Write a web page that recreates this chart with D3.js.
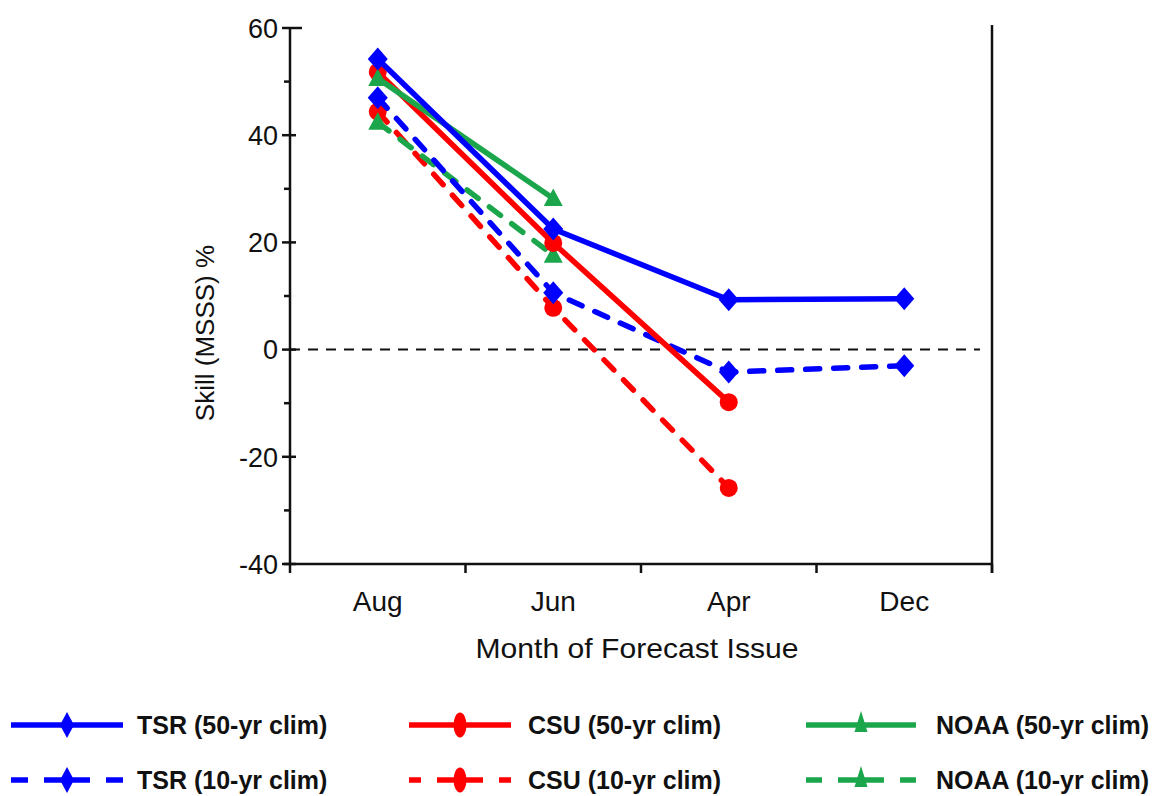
<!DOCTYPE html>
<html>
<head>
<meta charset="utf-8">
<script src="https://cdn.jsdelivr.net/npm/d3@7"></script>
<style>
  body { margin: 0; background: #fff; }
  svg { font-family: "Liberation Sans", Arial, sans-serif; }
</style>
</head>
<body>
<div id="chart"></div>
<script>
// ========= DATA =========
const months = ["Aug", "Jun", "Apr", "Dec"];
const tsr50  = [54.2, 22.5, 9.3, 9.5];
const tsr10  = [47.0, 10.6, -4.2, -3.0];
const csu50  = [51.8, 19.9, -9.8];
const csu10  = [44.4, 7.8, -25.8];
const noaa50 = [50.6, 28.2];
const noaa10 = [42.4, 17.6];
const yTicks = [-40, -20, 0, 20, 40, 60];

const BLUE = "#0000ff", RED = "#ff0000", GREEN = "#1ca64c";

// orden de dibujo: rojo, verde, azul (azul encima)
const series = [
  { name: "CSU (10-yr clim)",  values: csu10,  color: RED,   marker: "circle",   dashed: true },
  { name: "NOAA (10-yr clim)", values: noaa10, color: GREEN, marker: "triangle", dashed: true },
  { name: "TSR (10-yr clim)",  values: tsr10,  color: BLUE,  marker: "diamond",  dashed: true },
  { name: "CSU (50-yr clim)",  values: csu50,  color: RED,   marker: "circle",   dashed: false },
  { name: "NOAA (50-yr clim)", values: noaa50, color: GREEN, marker: "triangle", dashed: false },
  { name: "TSR (50-yr clim)",  values: tsr50,  color: BLUE,  marker: "diamond",  dashed: false }
];

const legendOrder = [
  ["TSR (50-yr clim)", "CSU (50-yr clim)", "NOAA (50-yr clim)"],
  ["TSR (10-yr clim)", "CSU (10-yr clim)", "NOAA (10-yr clim)"]
];

// ========= LAYOUT =========
const W = 1158, H = 796;
const plot = { left: 290, right: 992, top: 28, bottom: 564 };

const svg = d3.select("#chart").append("svg")
  .attr("width", W).attr("height", H);

const x = d3.scaleBand().domain(months).range([plot.left, plot.right]);
const y = d3.scaleLinear().domain([-40, 60]).range([plot.bottom, plot.top]);
const cx = m => x(m) + x.bandwidth() / 2;

// marcadores (w = medio ancho, h = medio alto)
function markerPath(type, w, h) {
  if (type === "diamond") return `M0,${-h}L${w},0L0,${h}L${-w},0Z`;
  if (type === "triangle") return `M0,${-h}L${w},${h * 0.75}L${-w},${h * 0.75}Z`;
  // elipse
  return `M${-w},0A${w},${h} 0 1,0 ${w},0A${w},${h} 0 1,0 ${-w},0Z`;
}
const chartMk = { diamond: [10, 11.5], circle: [9, 9], triangle: [9.5, 10] };
const legMk   = { diamond: [7, 13], circle: [6.5, 12.5], triangle: [6.5, 12] };

// ========= AXES =========
// linea del cero
svg.append("line")
  .attr("x1", plot.left).attr("x2", plot.right - 12)
  .attr("y1", y(0)).attr("y2", y(0))
  .attr("stroke", "#111").attr("stroke-width", 2)
  .attr("stroke-dasharray", "10,8");

const axisG = svg.append("g").attr("stroke", "#111").attr("stroke-width", 2.5);
axisG.append("line").attr("x1", plot.left).attr("x2", plot.left)
  .attr("y1", plot.top).attr("y2", plot.bottom + 1);
axisG.append("line").attr("x1", plot.left - 6).attr("x2", plot.right)
  .attr("y1", plot.bottom).attr("y2", plot.bottom);
axisG.append("line").attr("x1", plot.right).attr("x2", plot.right)
  .attr("y1", plot.top - 3).attr("y2", plot.bottom + 9);

// ticks y
const yMinor = d3.range(-30, 60, 20);
axisG.selectAll("line.ymaj").data(yTicks).enter().append("line")
  .attr("class", "ymaj")
  .attr("x1", plot.left - 8).attr("x2", d => d === 60 ? plot.left + 12 : plot.left + 6)
  .attr("y1", d => y(d)).attr("y2", d => y(d));
axisG.selectAll("line.ymin").data(yMinor).enter().append("line")
  .attr("class", "ymin")
  .attr("x1", plot.left - 6).attr("x2", plot.left)
  .attr("y1", d => y(d)).attr("y2", d => y(d));

svg.selectAll("text.ytick").data(yTicks).enter().append("text")
  .attr("class", "ytick")
  .attr("x", plot.left - 12).attr("y", d => y(d))
  .attr("dy", "0.36em").attr("text-anchor", "end")
  .attr("font-size", 27).attr("fill", "#111")
  .text(d => d);

// ticks x (entre categorias)
const xBounds = months.map(m => x(m)).concat([plot.right]);
axisG.selectAll("line.xt").data(xBounds).enter().append("line")
  .attr("class", "xt")
  .attr("x1", d => d).attr("x2", d => d)
  .attr("y1", plot.bottom).attr("y2", plot.bottom + 9);

svg.selectAll("text.xtick").data(months).enter().append("text")
  .attr("class", "xtick")
  .attr("x", d => cx(d)).attr("y", 611)
  .attr("text-anchor", "middle")
  .attr("font-size", 28).attr("fill", "#111")
  .text(d => d);

svg.append("text")
  .attr("x", (plot.left + plot.right) / 2 - 4).attr("y", 658)
  .attr("text-anchor", "middle").attr("font-size", 28).attr("fill", "#111")
  .attr("textLength", 323).attr("lengthAdjust", "spacingAndGlyphs")
  .text("Month of Forecast Issue");

svg.append("text")
  .attr("transform", `translate(214,333) rotate(-90)`)
  .attr("text-anchor", "middle").attr("font-size", 26).attr("fill", "#111")
  .text("Skill (MSSS) %");

// ========= SERIES =========
const line = d3.line().x((d, i) => cx(months[i])).y(d => y(d));

const sG = svg.selectAll("g.series").data(series).enter().append("g").attr("class", "series");
sG.append("path")
  .attr("d", d => line(d.values))
  .attr("fill", "none")
  .attr("stroke", d => d.color)
  .attr("stroke-width", 5.5)
  .attr("stroke-linecap", d => d.dashed ? "round" : "butt")
  .attr("stroke-linejoin", "round")
  .attr("stroke-dasharray", d => d.dashed ? "14,14" : null);
sG.each(function (s) {
  const [w, h] = chartMk[s.marker];
  d3.select(this).selectAll("path.mk").data(s.values).enter().append("path")
    .attr("class", "mk")
    .attr("transform", (d, i) => `translate(${cx(months[i])},${y(d)})`)
    .attr("d", markerPath(s.marker, w, h))
    .attr("fill", s.color);
});

// ========= LEGEND =========
const legCols = [
  { x1: 11, x2: 123, text: 137 },
  { x1: 409, x2: 511, text: 528 },
  { x1: 806, x2: 916, text: 936 }
];
const legRows = [725, 780];

legendOrder.forEach((row, ri) => {
  row.forEach((name, ci) => {
    const s = series.find(d => d.name === name);
    const c = legCols[ci];
    const ly = legRows[ri];
    const len = c.x2 - c.x1;
    const side = (len - 46) / 2 - 16;
    const g = svg.append("g");
    g.append("line")
      .attr("x1", c.x1).attr("x2", c.x2).attr("y1", ly).attr("y2", ly)
      .attr("stroke", s.color).attr("stroke-width", 5.5)
      .attr("stroke-dasharray", s.dashed ? `${side},16,46,16,${side}` : null);
    const [w, h] = legMk[s.marker];
    g.append("path")
      .attr("transform", `translate(${(c.x1 + c.x2) / 2},${s.marker === "triangle" ? ly - 2 : ly})`)
      .attr("d", markerPath(s.marker, w, h))
      .attr("fill", s.color);
    g.append("text")
      .attr("x", c.text).attr("y", ly).attr("dy", "0.36em")
      .attr("font-size", 25).attr("font-weight", "bold").attr("fill", "#111")
      .text(name);
  });
});
</script>
</body>
</html>
